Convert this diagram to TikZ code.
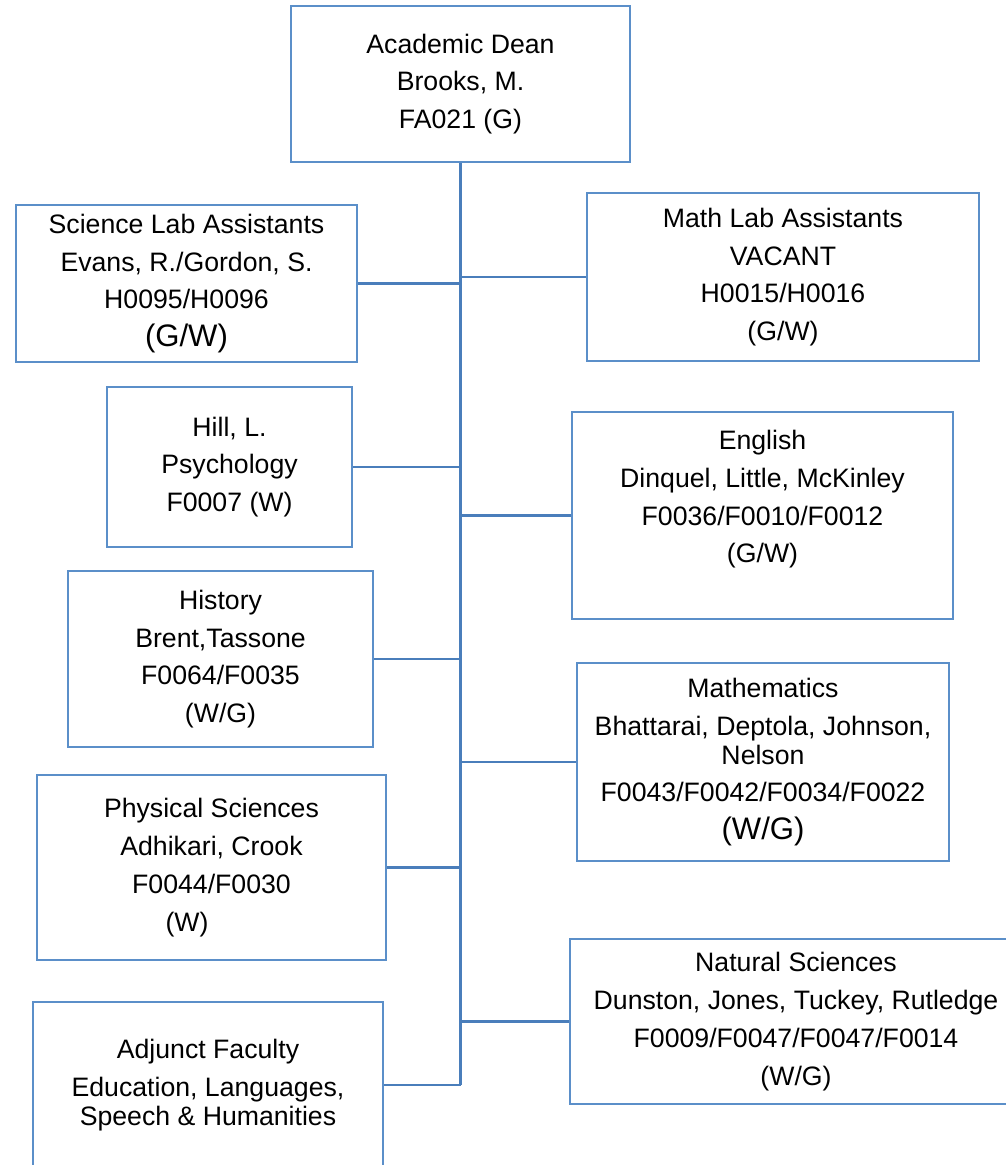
\documentclass[tikz,border=0pt]{standalone}
\usepackage{fontspec}
\setmainfont{Liberation Sans}
\definecolor{boxblue}{RGB}{91,143,201}
\definecolor{lineblue}{RGB}{74,126,187}
\def\pxu{0.45pt}
\tikzset{
  box/.style 2 args={draw=boxblue, line width=1.2pt, minimum width=#1*\pxu,
    minimum height=#2*\pxu, inner sep=0pt, align=center,
    font=\fontsize{12}{13}\selectfont},
  link/.style={draw=lineblue, line width=1.2pt}
}
\begin{document}
\begin{tikzpicture}[x=0.45pt, y=-0.45pt]
        \useasboundingbox (0,0) rectangle (1005,1165);
        % dean
        \node[box={339}{156}] (dean) at (460.5,84) {Academic Dean\\[4pt] Brooks, M.\\[4pt] FA021 (G)};
        % left column
        \node[box={341}{157}] (sci) at (186.5,283.5) {Science Lab Assistants\\[4pt] Evans, R./Gordon, S.\\[4pt] H0095/H0096\\[4pt] {\fontsize{14}{15}\selectfont (G/W)}};
        \node[box={245}{160}] (hill) at (229.5,467) {Hill, L.\\[4pt] Psychology\\[4pt] F0007 (W)};
        \node[box={305}{176}] (hist) at (220.5,659) {History\\[4pt] Brent,Tassone\\[4pt] F0064/F0035\\[4pt] (W/G)};
        \node[box={349}{185}] (phys) at (211.5,867.5) {Physical Sciences\\[4pt] Adhikari, Crook\\[4pt] F0044/F0030\\[4pt] (W)\hspace*{22pt}};
        \node[box={350}{166}] (adj) at (208,1085) {Adjunct Faculty\\[4pt] Education, Languages,\\ Speech \& Humanities};
        % right column
        \node[box={392}{168}] (mlab) at (783,277) {Math Lab Assistants\\[4pt] VACANT\\[4pt] H0015/H0016\\[4pt] (G/W)};
        \node[box={381}{207}] (eng) at (762.5,515.5) {English\\[4pt] Dinquel, Little, McKinley\\[4pt] F0036/F0010/F0012\\[4pt] (G/W)\\[4pt] ~};
        \node[box={372}{198}] (math) at (763,762) {Mathematics\\[4pt] Bhattarai, Deptola, Johnson,\\ Nelson\\[4pt] F0043/F0042/F0034/F0022\\[4pt] {\fontsize{14}{15}\selectfont (W/G)}};
        \node[box={452}{165}] (nat) at (796,1021.5) {Natural Sciences\\[4pt] Dunston, Jones, Tuckey, Rutledge\\[4pt] F0009/F0047/F0047/F0014\\[4pt] (W/G)};

        % trunk
        \draw[link] (dean.south) -- (dean.south |- adj.east);
        \foreach \n in {sci,hill,hist,phys,adj}
          \draw[link] (\n.east) -- (\n.east -| dean.south);
        \foreach \n in {mlab,eng,math,nat}
          \draw[link] (\n.west) -- (\n.west -| dean.south);
\end{tikzpicture}
\end{document}
